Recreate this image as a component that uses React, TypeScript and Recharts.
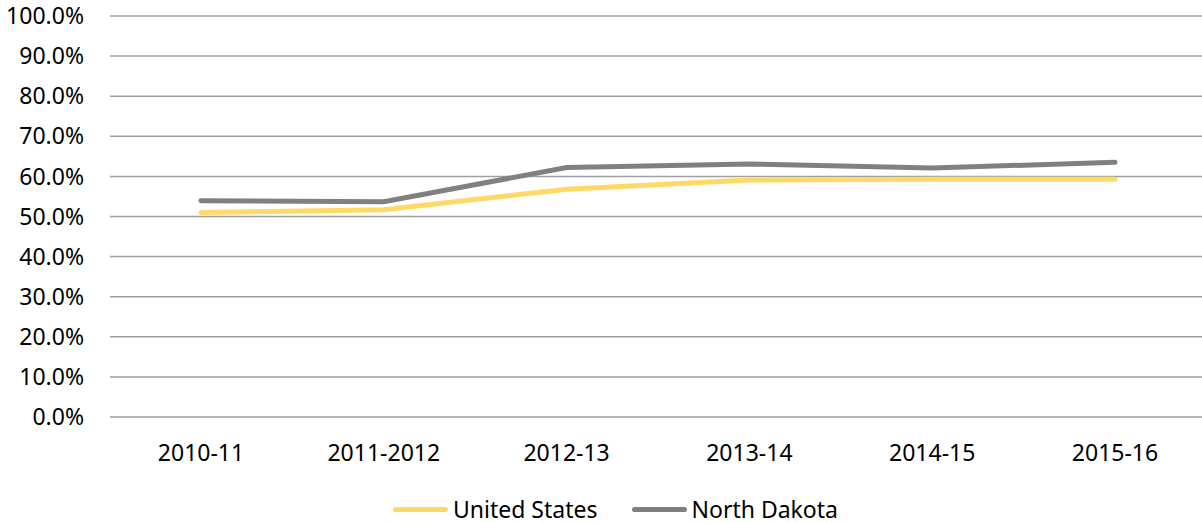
import { LineChart, Line, XAxis, YAxis, CartesianGrid, Legend } from "recharts";

const years = ["2010-11", "2011-2012", "2012-13", "2013-14", "2014-15", "2015-16"];
const unitedStates = [51.0, 51.7, 56.8, 59.1, 59.3, 59.3];
const northDakota = [53.9, 53.7, 62.2, 63.1, 62.1, 63.5];
const yTicks = [0, 10, 20, 30, 40, 50, 60, 70, 80, 90, 100];

const FONT = "'Noto Sans', sans-serif";
const US_COLOR = "#FFD966";
const ND_COLOR = "#808080";

const data = years.map((year, i) => ({
  year,
  us: unitedStates[i],
  nd: northDakota[i],
}));

function ChartLegend() {
  const items = [
    { label: "United States", color: US_COLOR },
    { label: "North Dakota", color: ND_COLOR },
  ];
  return (
    <div style={{ display: "flex", alignItems: "center", paddingLeft: 393, paddingTop: 16, gap: 34, fontFamily: FONT, fontSize: 23, color: "#000" }}>
      {items.map((it) => (
        <div key={it.label} style={{ display: "flex", alignItems: "center", gap: 5 }}>
          <span style={{ display: "inline-block", width: 55, height: 5, borderRadius: 3, background: it.color }} />
          <span>{it.label}</span>
        </div>
      ))}
    </div>
  );
}

export default function App() {
  return (
    <div style={{ position: "absolute", left: 0, top: 0, width: 1210, height: 523, background: "#fff" }}>
      <LineChart width={1210} height={523} data={data} margin={{ top: 16, right: 4, left: 0, bottom: 0 }}>
        <CartesianGrid vertical={false} stroke="#A0A0A0" strokeWidth={1.5} />
        <XAxis
          dataKey="year"
          axisLine={false}
          tickLine={false}
          tickSize={0}
          tickMargin={28}
          height={60}
          interval={0}
          padding={{ left: 91, right: 91 }}
          tick={{ fill: "#000", fontSize: 23, fontFamily: FONT }}
        />
        <YAxis
          width={110}
          domain={[0, 100]}
          ticks={yTicks}
          interval={0}
          axisLine={false}
          tickLine={false}
          tickSize={0}
          tickMargin={26}
          tickFormatter={(v: number) => `${v.toFixed(1)}%`}
          tick={{ fill: "#000", fontSize: 23, fontFamily: FONT }}
        />
        <Legend verticalAlign="bottom" height={46} content={() => <ChartLegend />} wrapperStyle={{ left: 0, width: 1202 }} />
        <Line
          type="linear"
          dataKey="us"
          name="United States"
          stroke={US_COLOR}
          strokeWidth={5}
          strokeLinecap="round"
          dot={false}
          isAnimationActive={false}
        />
        <Line
          type="linear"
          dataKey="nd"
          name="North Dakota"
          stroke={ND_COLOR}
          strokeWidth={5}
          strokeLinecap="round"
          dot={false}
          isAnimationActive={false}
        />
      </LineChart>
    </div>
  );
}
